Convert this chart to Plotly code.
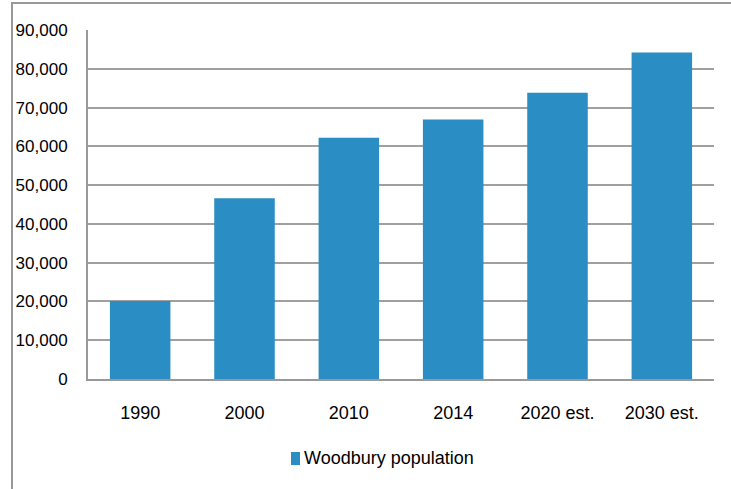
import plotly.graph_objects as go

categories = ["1990", "2000", "2010", "2014", "2020 est.", "2030 est."]
population = [20100, 46600, 62200, 66900, 73800, 84200]
series_name = "Woodbury population"
y_ticks = list(range(0, 90001, 10000))

W, H = 731, 489
L, R, T, B = 88, 714, 30, 379
pw, ph = R - L, B - T

def px_x(x):
    return (x - L) / pw

def px_y(y):
    return (B - y) / ph

font_family = "Liberation Sans Narrow, Arial Narrow, Liberation Sans, Arial, sans-serif"
bar_color = "#2a8dc4"

fig = go.Figure()
fig.add_trace(go.Bar(
    x=categories, y=population, name=series_name,
    marker=dict(color=bar_color, line=dict(width=0)),
    showlegend=False,
))

fig.update_layout(
    width=W, height=H,
    margin=dict(l=L, r=W - R, t=T, b=H - B),
    paper_bgcolor="white", plot_bgcolor="white",
    font=dict(family=font_family, size=18, color="#000000"),
    bargap=0.42,
    xaxis=dict(showgrid=False, showline=True, linecolor="#999999", linewidth=2,
               ticks="", ticklabelstandoff=16, tickfont=dict(size=18)),
    yaxis=dict(range=[0, 90000], tickvals=y_ticks, tickformat=",", showgrid=True,
               gridcolor="#a0a0a0", gridwidth=2, showline=True, linecolor="#999999", linewidth=2,
               ticks="", ticklabelstandoff=15, zeroline=False, tickfont=dict(size=17)),
    shapes=[
        dict(type="rect", xref="paper", yref="paper",
             x0=px_x(12), x1=px_x(760), y0=px_y(520), y1=px_y(3),
             line=dict(color="#999999", width=2), fillcolor="rgba(0,0,0,0)", layer="below"),
        dict(type="rect", xref="paper", yref="paper",
             x0=px_x(291), x1=px_x(300), y0=px_y(465), y1=px_y(452),
             line=dict(width=0), fillcolor=bar_color),
    ],
    annotations=[
        dict(text=series_name, xref="paper", yref="paper", x=px_x(302), y=px_y(458),
             xanchor="left", yanchor="middle", showarrow=False, font=dict(size=18)),
    ],
)

fig.write_html("out.html")
